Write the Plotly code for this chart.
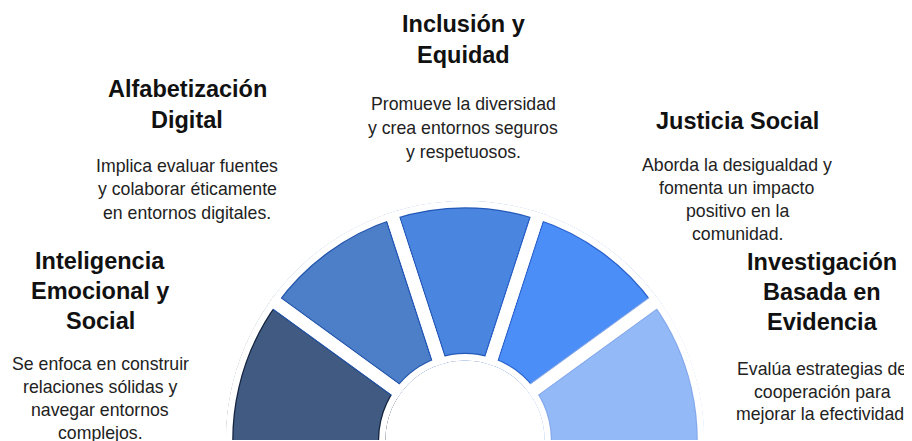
import plotly.graph_objects as go

# The page body has an 8px margin; positions below are given in window pixels.
WIN_W, WIN_H = 912, 441
OFF = 8
W, H = WIN_W - OFF, WIN_H - OFF

# ---- data ----
categories = ["Inteligencia Emocional y Social", "Alfabetización Digital",
              "Inclusión y Equidad", "Justicia Social",
              "Investigación Basada en Evidencia"]
segment_values = [1, 1, 1, 1, 1]
segment_colors = ["#405A82", "#4D7EC8", "#4A86DF", "#4C8EF8", "#94B9F7"]
border_colors = ["#14243F", "#2456AE", "#2458B8", "#2A62CC", "#86AAEC"]

title_lines = [
    ["Inteligencia", "Emocional y", "Social"],
    ["Alfabetización", "Digital"],
    ["Inclusión y", "Equidad"],
    ["Justicia Social"],
    ["Investigación", "Basada en", "Evidencia"],
]
desc_lines = [
    ["Se enfoca en construir", "relaciones sólidas y", "navegar entornos", "complejos."],
    ["Implica evaluar fuentes", "y colaborar éticamente", "en entornos digitales."],
    ["Promueve la diversidad", "y crea entornos seguros", "y respetuosos."],
    ["Aborda la desigualdad y", "fomenta un impacto", "positivo en la", "comunidad."],
    ["Evalúa estrategias de", "cooperación para", "mejorar la efectividad."],
]

# ---- layout (window-pixel positions of text blocks) ----
text_cx = [100, 187, 463, 737, 822]
title_y0 = [261, 89, 24, 121, 262]
title_dy = [30, 31, 31, 30, 30]
desc_y0 = [364, 166, 104, 165, 369]
desc_dy = [23, 23.5, 24, 23, 22.5]


def px(x):
    return (x - OFF) / W


def py(y):
    return 1 - (y - OFF) / H


n = len(categories)
span = 180 / n
# bars ordered from left (180°) to right (0°); outer ones extended past the sector
thetas = [180 - span * (i + 0.5) for i in range(n)]
widths = [span] * n
thetas[0] += 5; widths[0] += 10
thetas[-1] -= 5; widths[-1] += 10

fig = go.Figure()
fig.add_trace(go.Barpolar(
    r=segment_values, theta=thetas, width=widths,
    marker=dict(color=segment_colors, line=dict(color=border_colors, width=15)),
    hoverinfo="skip", showlegend=False,
))
fig.add_trace(go.Barpolar(
    r=segment_values, theta=thetas, width=widths,
    marker=dict(color="rgba(0,0,0,0)", line=dict(color="white", width=12.5)),
    hoverinfo="skip", showlegend=False,
))
# white covers for the stray stroke edges outside/inside the ring
fig.add_trace(go.Barpolar(
    r=[0.1, 0.1], base=[1.0, -0.1], theta=[90, 90], width=[200, 200],
    marker=dict(color="white", line=dict(color="white", width=4)),
    hoverinfo="skip", showlegend=False,
))

cx, cy, R = 465, 440, 239
fig.update_layout(
    width=W, height=H,
    margin=dict(l=0, r=0, t=0, b=0),
    paper_bgcolor="white", plot_bgcolor="white",
    polar=dict(
        domain=dict(x=[px(cx - R), px(cx + R)], y=[py(cy), py(cy - R)]),
        sector=[0, 180],
        hole=0.333,
        barmode="overlay",
        bgcolor="white",
        radialaxis=dict(visible=False, range=[0, 1]),
        angularaxis=dict(visible=False, direction="counterclockwise", rotation=0),
    ),
)

font_family = "Liberation Sans, Arial, sans-serif"
annotations = []
for i in range(n):
    for j, line in enumerate(title_lines[i]):
        y = title_y0[i] + j * title_dy[i]
        annotations.append(dict(
            text="<b>" + line + "</b>", x=px(text_cx[i]), y=py(y),
            xref="paper", yref="paper", xanchor="center", yanchor="middle",
            showarrow=False, font=dict(family=font_family, size=23.5, color="#111111")))
    for j, line in enumerate(desc_lines[i]):
        y = desc_y0[i] + j * desc_dy[i]
        annotations.append(dict(
            text=line, x=px(text_cx[i]), y=py(y),
            xref="paper", yref="paper", xanchor="center", yanchor="middle",
            showarrow=False, font=dict(family=font_family, size=17.7, color="#222222")))
fig.update_layout(annotations=annotations)

fig.write_html("out.html")
